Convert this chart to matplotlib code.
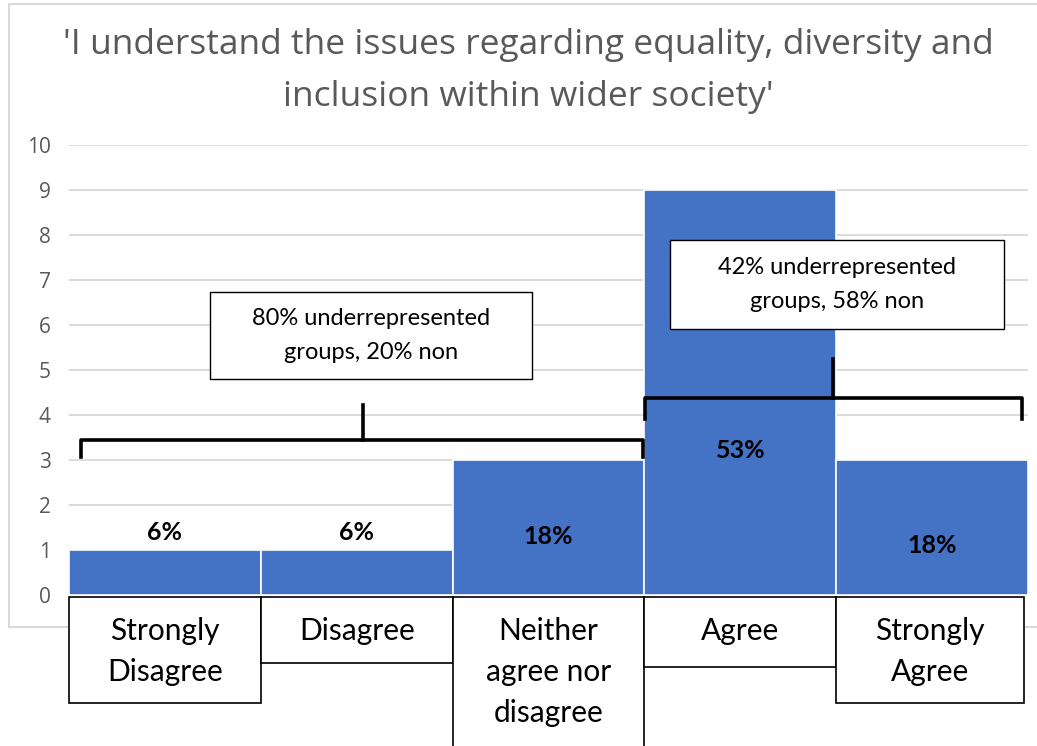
import matplotlib
matplotlib.use("Agg")
import matplotlib.pyplot as plt
from matplotlib.patches import Rectangle
from matplotlib.lines import Line2D

# --- data ---
categories = ["Strongly\nDisagree", "Disagree", "Neither\nagree nor\ndisagree", "Agree", "Strongly\nAgree"]
counts = [1, 1, 3, 9, 3]
pct_labels = ["6%", "6%", "18%", "53%", "18%"]
title_lines = ["'I understand the issues regarding equality, diversity and",
               "inclusion within wider society'"]
note_left = "80% underrepresented\ngroups, 20% non"
note_right = "42% underrepresented\ngroups, 58% non"

# --- layout (pixels -> figure fractions) ---
W, H = 1037, 746
BLUE = "#4472c4"
GREY = "#595959"
GRID = "#d9d9d9"
PX = 45.0  # pixels per y unit

fig = plt.figure(figsize=(W / 100, H / 100), dpi=100)
ax = fig.add_axes([69 / W, 1 - 595 / H, (1028 - 69) / W, (595 - 145) / H])

# chart outer border (Excel style), kept behind the axes
for xs, ys in [([9 / W, 9 / W], [1 - 4 / H, 1 - 627 / H]),
               ([9 / W, 1.0], [1 - 4 / H, 1 - 4 / H]),
               ([9 / W, 1.0], [1 - 627 / H, 1 - 627 / H])]:
    fig.add_artist(Line2D(xs, ys, color=GRID, lw=1.5, zorder=-5))

x = list(range(len(counts)))
ax.bar(x, counts, width=1.0, color=BLUE, edgecolor="white", linewidth=1.2, zorder=2)
ax.set_xlim(-0.5, 4.5)
ax.set_ylim(0, 10)
ax.set_yticks(range(0, 11))
ax.set_xticks([])
ax.yaxis.grid(True, color=GRID, lw=1.3, zorder=0)
ax.set_axisbelow(True)
ax.patch.set_alpha(0)
for s in ax.spines.values():
    s.set_visible(False)
ax.tick_params(axis="y", length=0, pad=13, labelsize=15, labelcolor=GREY)
for t in ax.get_yticklabels():
    t.set_fontfamily("Open Sans")

for k, line in enumerate(title_lines):
    fig.text(528 / W, 1 - (45 + 52 * k) / H, line, ha="center", va="center",
             fontsize=25.5, color=GREY, family="Open Sans")

# percentage labels (y positions chosen to match original placement)
label_y = [1.38, 1.4, 1.29, 3.22, 1.09]
for xi, yi, lab in zip(x, label_y, pct_labels):
    ax.text(xi, yi, lab, ha="center", va="center", fontsize=18, fontweight="bold",
            family="Lato", color="black", zorder=5)

# category label boxes under the axis
box_bottom = [-2.4, -1.51, -3.6, -1.6, -2.4]
box_right = [0.5, 1.5, 2.5, 3.5, 4.48]
for i, cat in enumerate(categories):
    left = i - 0.5
    ax.add_patch(Rectangle((left, -0.05), box_right[i] - left, box_bottom[i] + 0.05,
                           facecolor="white", edgecolor="black", lw=1.2,
                           clip_on=False, zorder=4))
    cx = (left + box_right[i]) / 2
    for k, part in enumerate(cat.split("\n")):
        ax.text(cx, -(631 - 595 + 41 * k) / PX, part, ha="center", va="center",
                fontsize=21.5, family="Lato", color="black", clip_on=False, zorder=5)

# annotation boxes
for (x0, x1, y0, y1, txt) in [(0.235, 1.914, 4.8, 6.73, note_left),
                              (2.633, 4.375, 5.91, 7.89, note_right)]:
    ax.add_patch(Rectangle((x0, y0), x1 - x0, y1 - y0, facecolor="white",
                           edgecolor="black", lw=1.0, zorder=4, clip_on=False))
    yc = (y0 + y1) / 2
    for k, part in enumerate(txt.split("\n")):
        ax.text((x0 + x1) / 2, yc + (0.5 - k) * 34 / PX, part, ha="center", va="center",
                fontsize=17, family="Lato", zorder=5)


def bracket(xa, xb, yh, ye, xm, ym):
    ax.plot([xa, xa, xb, xb], [ye, yh, yh, ye], color="black", lw=2.6,
            solid_joinstyle="round", zorder=6, clip_on=False)
    ax.plot([xm, xm], [yh, ym], color="black", lw=2.6, zorder=6, clip_on=False)


bracket(-0.437, 2.493, 3.44, 3.07, 1.033, 4.22)
bracket(2.503, 4.469, 4.38, 3.91, 3.483, 5.24)

fig.savefig("out.png", dpi=100)
